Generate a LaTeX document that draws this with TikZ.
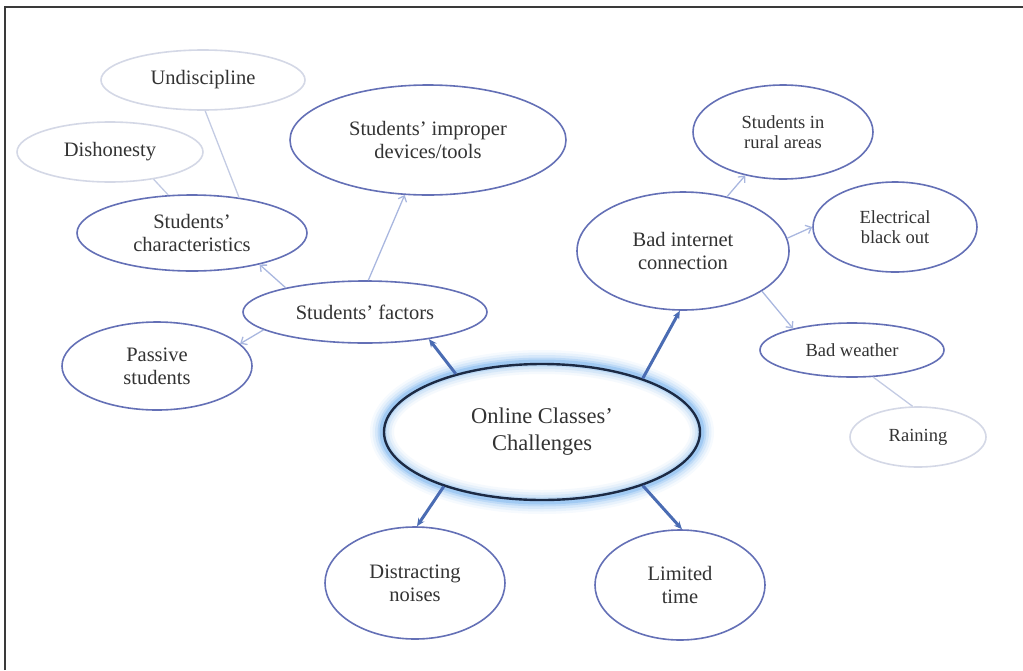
\documentclass[tikz,border=0pt]{standalone}
\usepackage{fontspec}
\setmainfont{Liberation Serif}
\usetikzlibrary{shapes.geometric,arrows.meta}
\definecolor{edgeblue}{HTML}{6470B6}
\definecolor{fadegray}{HTML}{D4D8E6}
\definecolor{darkline}{HTML}{1C2A44}
\definecolor{arrowblue}{HTML}{4A6CB3}
\definecolor{lightarrow}{HTML}{A9B7DF}
\definecolor{glowblue}{HTML}{5EA4EA}
\definecolor{textgray}{HTML}{333333}
\definecolor{framegray}{HTML}{3A3A3A}
\tikzset{
  bubble/.style={ellipse, draw=edgeblue, line width=1.6pt, fill=white, inner sep=0pt, align=center, text=textgray},
  faded/.style={bubble, draw=fadegray},
  fnorm/.style={font=\fontsize{20.5}{23}\selectfont},
  fsmall/.style={font=\fontsize{18.5}{20.5}\selectfont},
  fbig/.style={font=\fontsize{22.5}{27}\selectfont},
  mainarrow/.style={arrowblue, line width=3pt, -{Stealth[length=8pt,width=7pt]}},
  subarrow/.style={lightarrow, line width=1.3pt, -{Straight Barb[length=5pt,width=9pt]}},
  subline/.style={fadegray!60!lightarrow, line width=1.3pt},
}
\begin{document}
\begin{tikzpicture}[x=1pt,y=-1pt]
\useasboundingbox (0,0) rectangle (1023,670);
% frame
\draw[framegray, line width=1.6pt] (5,670) -- (5,7) -- (1023,7);

% white body and glow of the main ellipse
\fill[white] (542,432) ellipse [x radius=158pt, y radius=68pt];
\foreach \w/\o in {24/0.06,19/0.09,14/0.13,9/0.2,5/0.3}
  \draw[glowblue, opacity=\o, line width=\w pt] (542,432) ellipse [x radius=160pt, y radius=70pt];

% nodes
\node[bubble, fbig, draw=darkline, fill=none, line width=2.4pt, minimum width=316pt, minimum height=136pt] (C) at (542,432) {Online Classes'\\Challenges};

\node[bubble, fnorm, minimum width=244pt, minimum height=62pt] (SF) at (365,312) {Students' factors};
\node[bubble, fnorm, minimum width=230pt, minimum height=76pt] (SC) at (192,233) {Students'\\characteristics};
\node[bubble, fnorm, minimum width=276pt, minimum height=110pt] (ID) at (428,140) {Students' improper\\devices/tools};
\node[bubble, fnorm, minimum width=190pt, minimum height=88pt] (PS) at (157,366) {Passive\\students};
\node[faded, fnorm, minimum width=204pt, minimum height=60pt] (UD) at (203,80) {Undiscipline};
\node[faded, fnorm, minimum width=186pt, minimum height=60pt] (DH) at (110,152) {Dishonesty};

\node[bubble, fnorm, minimum width=212pt, minimum height=118pt] (BI) at (683,251) {Bad internet\\connection};
\node[bubble, fsmall, minimum width=180pt, minimum height=94pt] (RA) at (783,132) {Students in\\rural areas};
\node[bubble, fsmall, minimum width=164pt, minimum height=90pt] (EB) at (895,227) {Electrical\\black out};
\node[bubble, fsmall, minimum width=184pt, minimum height=54pt] (BW) at (852,350) {Bad weather};
\node[faded, fsmall, minimum width=136pt, minimum height=60pt] (RN) at (918,437) {Raining};

\node[bubble, fnorm, minimum width=180pt, minimum height=112pt] (DN) at (415,583) {Distracting\\noises};
\node[bubble, fnorm, minimum width=170pt, minimum height=110pt] (LT) at (680,585) {Limited\\time};

% main connectors
\draw[mainarrow] (C.146) -- (SF.-23);
\draw[mainarrow] (C.28) -- (BI.-93);
\draw[mainarrow] (C.-151) -- (DN.88);
\draw[mainarrow] (C.-28) -- (LT.88);

% students' factors branch
\draw[subarrow] (SF.163) -- (SC.-25);
\draw[subarrow] (SF.-170) -- (PS.15);
\draw[subarrow] (SF.84) -- (ID.-113);
\draw[subline] (SC.37) -- (UD.-86);
\draw[subline] (SC.122) -- (DH.-32);

% bad internet branch
\draw[subarrow] (BI.51) -- (RA.-131);
\draw[subarrow] (BI.7) -- (EB.180);
\draw[subarrow] (BI.-27) -- (BW.160);
\draw[subline] (BW.-52) -- (RN.100);
\end{tikzpicture}
\end{document}
